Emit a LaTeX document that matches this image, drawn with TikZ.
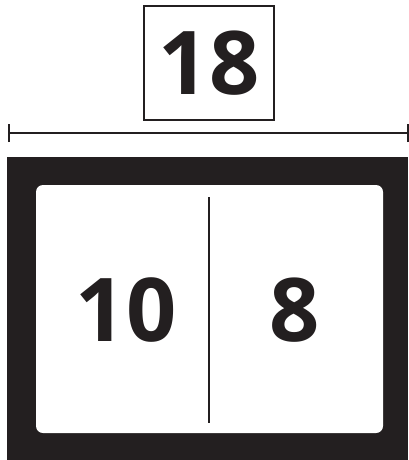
\documentclass[tikz,border=0pt]{standalone}
\usepackage{fontspec}
\newfontfamily\numfont{Open Sans}
\definecolor{ink}{HTML}{231F20}
\newcommand{\bignum}{\numfont\bfseries\fontsize{88}{88}\selectfont}

\begin{document}
\begin{tikzpicture}[x=1pt, y=-1pt, thick, line cap=butt]
  \useasboundingbox (0,0) rectangle (408,460);

  % 1. The whole number in its box
  \node[draw=ink, line width=1.3pt, minimum width=130pt, minimum height=114pt,
        font=\bignum, text=ink, inner sep=0pt] (total) at (209,63) {18};

  % 2. Measuring line with an end tick on each side
  \coordinate (dimL) at (9,133);
  \coordinate (dimR) at (408,133);
  \draw[ink, line width=2pt] (dimL) -- (dimR);
  \foreach \c in {dimL, dimR} {
    \draw[ink, line width=2pt] ([yshift=-9pt]\c) -- ([yshift=9pt]\c);
  }

  % 3. Black frame with the white card inside
  \fill[ink] (7,157) rectangle (408,460);
  \fill[white, rounded corners=7pt] (36,185) rectangle (383,433);

  % 4. Line that splits the card in two
  \coordinate (divT) at (209,197);
  \coordinate (divB) at (209,423);
  \draw[ink, line width=2pt] (divT) -- (divB);

  % 5. The two parts
  \node[font=\bignum, text=ink, inner sep=0pt] (tens) at (126,310) {10};
  \node[font=\bignum, text=ink, inner sep=0pt] (ones) at (295,310) {8};

\end{tikzpicture}
\end{document}
